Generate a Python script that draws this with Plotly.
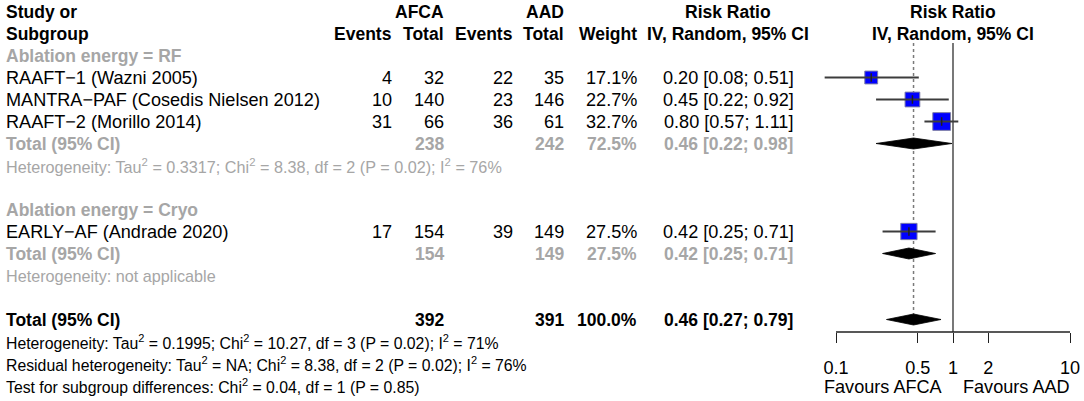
import numpy as np
import plotly.graph_objects as go

# ---------------- data ----------------
studies = ["RAAFT−1 (Wazni 2005)", "MANTRA−PAF (Cosedis Nielsen 2012)",
           "RAAFT−2 (Morillo 2014)", "EARLY−AF (Andrade 2020)"]
study_group = ["RF", "RF", "RF", "Cryo"]
afca_events = [4, 10, 31, 17]
afca_total = [32, 140, 66, 154]
aad_events = [22, 23, 36, 39]
aad_total = [35, 146, 61, 149]
weights = [17.1, 22.7, 32.7, 27.5]
rr = [0.20, 0.45, 0.80, 0.42]
rr_lo = [0.08, 0.22, 0.57, 0.25]
rr_hi = [0.51, 0.92, 1.11, 0.71]

groups = ["RF", "Cryo"]
group_labels = ["Ablation energy = RF", "Ablation energy = Cryo"]
group_afca_total = [238, 154]
group_aad_total = [242, 149]
group_weight = [72.5, 27.5]
group_rr = [0.46, 0.42]
group_lo = [0.22, 0.25]
group_hi = [0.98, 0.71]
group_het = [
    "Heterogeneity: Tau<sup>2</sup> = 0.3317; Chi<sup>2</sup> = 8.38, df = 2 (P = 0.02); I<sup>2</sup> = 76%",
    "Heterogeneity: not applicable",
]

overall_afca_total = 392
overall_aad_total = 391
overall_weight = 100.0
overall_rr = 0.46
overall_lo = 0.27
overall_hi = 0.79
overall_notes = [
    "Heterogeneity: Tau<sup>2</sup> = 0.1995; Chi<sup>2</sup> = 10.27, df = 3 (P = 0.02); I<sup>2</sup> = 71%",
    "Residual heterogeneity: Tau<sup>2</sup> = NA; Chi<sup>2</sup> = 8.38, df = 2 (P = 0.02); I<sup>2</sup> = 76%",
    "Test for subgroup differences: Chi<sup>2</sup> = 0.04, df = 1 (P = 0.85)",
]

tick_values = [0.1, 0.5, 1, 2, 10]
tick_labels = ["0.1", "0.5", "1", "2", "10"]
favours_labels = ["Favours AFCA", "Favours AAD"]
null_value = 1

# ---------------- layout constants ----------------
W, H = 1084, 401
FONT = "Liberation Sans, Arial, sans-serif"
FS = 18.1
FS_BOLD = 17.5
FS_HET = 16.2
FS_NOTE = 15.8
GRAY = "#a6a6a6"
ROW0, ROWH = 11.5, 22


def row_y(r):
    return ROW0 + ROWH * r


COL_STUDY = 6
COL_EV1, COL_N1, COL_EV2, COL_N2, COL_W = 392, 444, 513, 564, 637
COL_RR = 728

# log-scale forest panel: 1 -> x=953px, decade = 117px
PX_ONE, PX_DEC = 953, 117
LOG_LO, LOG_HI = -1.2, 1.1
dom = [(PX_ONE + PX_DEC * LOG_LO) / W, (PX_ONE + PX_DEC * LOG_HI) / W]
AXIS_Y = 332
PANEL_TOP = 43

annotations = []


def txt(x, y, s, anchor="left", size=None, color="black", bold=False, xref="x", xshift=0):
    if size is None:
        size = FS_BOLD if bold else FS
    if bold:
        s = "<b>" + s + "</b>"
    if xref == "x2":
        x = float(np.log10(x))  # annotation positions on a log axis are log10 values
    annotations.append(dict(
        x=x, y=y, xref=xref, yref="y", text=s, showarrow=False,
        xanchor=anchor, yanchor="middle", xshift=xshift,
        font=dict(family=FONT, size=size, color=color),
        borderpad=0, borderwidth=0,
    ))


# headers
txt(COL_STUDY, row_y(0), "Study or", bold=True)
txt(COL_STUDY, row_y(1), "Subgroup", bold=True)
txt(COL_N1, row_y(0), "AFCA", "right", bold=True)
txt(COL_N2, row_y(0), "AAD", "right", bold=True)
txt(COL_EV1, row_y(1), "Events", "right", bold=True)
txt(COL_N1, row_y(1), "Total", "right", bold=True)
txt(COL_EV2, row_y(1), "Events", "right", bold=True)
txt(COL_N2, row_y(1), "Total", "right", bold=True)
txt(COL_W, row_y(1), "Weight", "right", bold=True)
txt(COL_RR, row_y(0), "Risk Ratio", "center", bold=True)
txt(COL_RR, row_y(1), "IV, Random, 95% CI", "center", bold=True)
txt(null_value, row_y(0), "Risk Ratio", "center", bold=True, xref="x2")
txt(null_value, row_y(1), "IV, Random, 95% CI", "center", bold=True, xref="x2")

sq_x, sq_y = [], []
diamonds = []  # (est, lo, hi, y)

r = 2
for gi, g in enumerate(groups):
    txt(COL_STUDY, row_y(r), group_labels[gi], color=GRAY, bold=True)
    r += 1
    for i, s in enumerate(studies):
        if study_group[i] != g:
            continue
        y = row_y(r)
        txt(COL_STUDY, y, s)
        txt(COL_EV1, y, str(afca_events[i]), "right")
        txt(COL_N1, y, str(afca_total[i]), "right")
        txt(COL_EV2, y, str(aad_events[i]), "right")
        txt(COL_N2, y, str(aad_total[i]), "right")
        txt(COL_W, y, f"{weights[i]:.1f}%", "right")
        txt(COL_RR, y, f"{rr[i]:.2f} [{rr_lo[i]:.2f}; {rr_hi[i]:.2f}]", "center")
        sq_x.append(i)
        sq_y.append(y)
        r += 1
    y = row_y(r)
    txt(COL_STUDY, y, "Total (95% CI)", color=GRAY, bold=True)
    txt(COL_N1, y, str(group_afca_total[gi]), "right", color=GRAY, bold=True)
    txt(COL_N2, y, str(group_aad_total[gi]), "right", color=GRAY, bold=True)
    txt(COL_W, y, f"{group_weight[gi]:.1f}%", "right", color=GRAY, bold=True)
    txt(COL_RR, y, f"{group_rr[gi]:.2f} [{group_lo[gi]:.2f}; {group_hi[gi]:.2f}]", "center",
        color=GRAY, bold=True)
    diamonds.append((group_rr[gi], group_lo[gi], group_hi[gi], y))
    r += 1
    txt(COL_STUDY, row_y(r), group_het[gi], size=FS_HET, color=GRAY)
    r += 2

y = row_y(r)
txt(COL_STUDY, y, "Total (95% CI)", bold=True)
txt(COL_N1, y, str(overall_afca_total), "right", bold=True)
txt(COL_N2, y, str(overall_aad_total), "right", bold=True)
txt(COL_W, y, f"{overall_weight:.1f}%", "right", bold=True)
txt(COL_RR, y, f"{overall_rr:.2f} [{overall_lo:.2f}; {overall_hi:.2f}]", "center", bold=True)
diamonds.append((overall_rr, overall_lo, overall_hi, y))
overall_y = y
r += 1
for note in overall_notes:
    txt(COL_STUDY, row_y(r), note, size=FS_NOTE)
    r += 1

# favours labels
txt(null_value, 387, favours_labels[0], "right", xref="x2", xshift=-10)
txt(null_value, 387, favours_labels[1], "left", xref="x2", xshift=10)

fig = go.Figure()

# reference lines
DH = 5.5
fig.add_trace(go.Scatter(x=[overall_rr, overall_rr], y=[PANEL_TOP, overall_y - DH],
                         xaxis="x2", yaxis="y", mode="lines",
                         line=dict(color="#7a7a7a", width=1.5, dash="dot"), hoverinfo="skip"))
fig.add_trace(go.Scatter(x=[null_value, null_value], y=[PANEL_TOP, AXIS_Y],
                         xaxis="x2", yaxis="y", mode="lines",
                         line=dict(color="#303030", width=1.3), hoverinfo="skip"))
# axis line
fig.add_trace(go.Scatter(x=[tick_values[0], tick_values[-1]], y=[AXIS_Y, AXIS_Y],
                         xaxis="x2", yaxis="y", mode="lines",
                         line=dict(color="#202020", width=1.3), hoverinfo="skip"))

# squares
fig.add_trace(go.Scatter(
    x=[rr[i] for i in sq_x], y=sq_y, xaxis="x2", yaxis="y", mode="markers",
    marker=dict(symbol="square", size=[3.1 * np.sqrt(weights[i]) for i in sq_x],
                color="#0000ff", opacity=1, line=dict(color="#7d7da8", width=1)),
    hoverinfo="skip"))

# CI lines
cx, cy = [], []
for k, i in enumerate(sq_x):
    cx += [rr_lo[i], rr_hi[i], None]
    cy += [sq_y[k], sq_y[k], None]
fig.add_trace(go.Scatter(x=cx, y=cy, xaxis="x2", yaxis="y", mode="lines",
                         line=dict(color="#3c3c3c", width=1.8), hoverinfo="skip"))
fig.add_trace(go.Scatter(x=[rr[i] for i in sq_x], y=sq_y, xaxis="x2", yaxis="y", mode="markers",
                         marker=dict(symbol="line-ns", size=6, opacity=1,
                                     line=dict(color="#202020", width=1.5)),
                         hoverinfo="skip"))

# diamonds
for est, lo, hi, yy in diamonds:
    fig.add_trace(go.Scatter(x=[lo, est, hi, est, lo], y=[yy, yy - DH, yy, yy + DH, yy],
                             xaxis="x2", yaxis="y", mode="lines", fill="toself",
                             fillcolor="black", line=dict(color="black", width=0.8),
                             hoverinfo="skip"))

fig.update_layout(
    width=W, height=H, margin=dict(l=0, r=0, t=0, b=0),
    paper_bgcolor="white", plot_bgcolor="white", showlegend=False,
    annotations=annotations,
    xaxis=dict(range=[0, W], domain=[0, 1], visible=False, fixedrange=True),
    yaxis=dict(range=[H, 0], domain=[0, 1], visible=False, fixedrange=True),
    xaxis2=dict(type="log", range=[LOG_LO, LOG_HI], domain=dom,
                anchor="free", position=(H - AXIS_Y) / H,
                showline=False, showgrid=False, zeroline=False,
                ticks="outside", ticklen=10, tickwidth=1.3, tickcolor="#202020",
                tickvals=tick_values, ticktext=tick_labels,
                tickfont=dict(family=FONT, size=FS, color="black"),
                ticklabelstandoff=9, fixedrange=True),
)

fig.write_html("out.html", config={"displayModeBar": False},
               post_script="document.body.style.margin='0';document.body.style.overflow='hidden';")
